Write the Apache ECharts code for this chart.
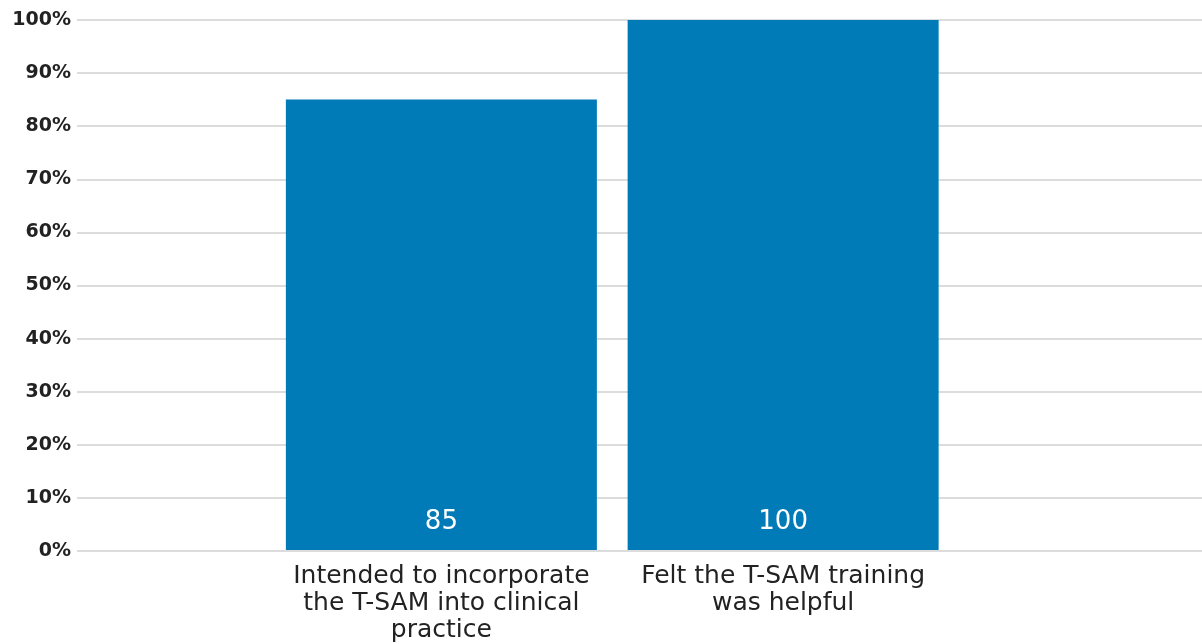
<!DOCTYPE html>
<html><head><meta charset="utf-8">
<script src="https://cdn.jsdelivr.net/npm/echarts@6/dist/echarts.min.js"></script>
<style>html,body{margin:0;padding:0;background:#fff}#c{width:1202px;height:644px}</style>
</head><body><div id="c"></div>
<script>
const categories = ["Intended to incorporate\nthe T-SAM into clinical\npractice", "Felt the T-SAM training\nwas helpful"];
const values = [85, 100];
const yTicks = [0, 10, 20, 30, 40, 50, 60, 70, 80, 90, 100];

const chart = echarts.init(document.getElementById('c'));
const font = '"DejaVu Sans", sans-serif';
chart.setOption({
  animation: false,
  grid: [
    {left: 77, right: 0, top: 20, bottom: 93},
    {left: 270.5, right: 248, top: 20, bottom: 93}
  ],
  xAxis: [
    {gridIndex: 0, type: 'category', data: categories, show: false},
    {gridIndex: 1, type: 'category', data: categories,
     axisLine: {show: false}, axisTick: {show: false},
     axisLabel: {color: '#222', fontFamily: font, fontSize: 25, lineHeight: 27, margin: 13, interval: 0}}
  ],
  yAxis: [
    {gridIndex: 0, type: 'value', min: yTicks[0], max: yTicks[yTicks.length-1], interval: 10,
     axisLine: {show: false}, axisTick: {show: false},
     axisLabel: {formatter: '{value}%', color: '#222', fontFamily: font, fontWeight: 'bold', fontSize: 19, margin: 6},
     splitLine: {lineStyle: {color: '#dcdcdc', width: 2}}},
    {gridIndex: 1, type: 'value', min: 0, max: 100, show: false, splitLine: {show: false}}
  ],
  series: [{
    type: 'bar', xAxisIndex: 1, yAxisIndex: 1, data: values, barWidth: 311,
    itemStyle: {color: '#007bb8'},
    label: {show: true, position: 'insideBottom', distance: 15, color: '#fff', fontFamily: font, fontSize: 26}
  }]
});
</script></body></html>
